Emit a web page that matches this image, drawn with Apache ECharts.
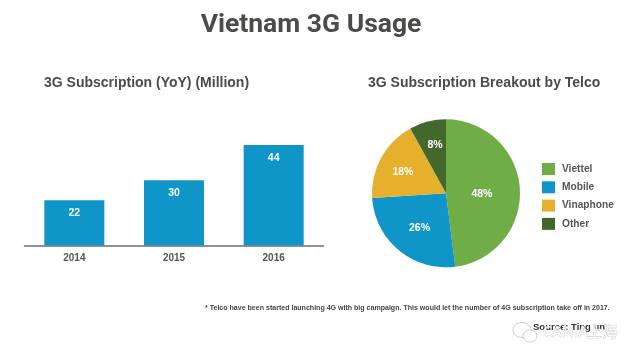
<!DOCTYPE html>
<html>
<head>
<meta charset="utf-8">
<style>html,body{margin:0;padding:0;background:#fff}#c{width:640px;height:358px}</style>
<script src="https://cdn.jsdelivr.net/npm/echarts@6/dist/echarts.min.js"></script>
</head>
<body>
<div id="c"></div>
<script>
var years = ['2014', '2015', '2016'];
var subscriptions = [22, 30, 44];
var telcos = ['Viettel', 'Mobile', 'Vinaphone', 'Other'];
var shares = [48, 26, 18, 8];
var telcoColors = ['#70ad47', '#0f95c8', '#e5b02c', '#43682b'];
var mainTitle = 'Vietnam 3G Usage';
var leftTitle = '3G Subscription (YoY) (Million)';
var rightTitle = '3G Subscription Breakout by Telco';
var footnote = '* Telco have been started launching 4G with big campaign. This would let the number of 4G subscription take off in 2017.';
var sourceText = 'Source: Ting un';
var watermark = 'CAMIA上海';
var pieLabelShift = [[-4, 3], [-1, 4], [-8, -2], [-1, -9]];

var ink = '#4b4b49';
var font = 'Roboto, "Liberation Sans", sans-serif';
var arial = '"Liberation Sans", sans-serif';
var chart = echarts.init(document.getElementById('c'), null, {renderer: 'canvas'});
chart.setOption({
  animation: false,
  backgroundColor: '#fff',
  title: [
    {text: mainTitle, left: 311, top: 12, padding: 0, textAlign: 'center',
     textStyle: {fontFamily: font, fontSize: 26.5, fontWeight: 'bold', color: ink}},
    {text: leftTitle, left: 44, top: 76, padding: 0,
     textStyle: {fontFamily: arial, fontSize: 14, fontWeight: 'bold', color: ink}},
    {text: rightTitle, left: 368, top: 76.5, padding: 0,
     textStyle: {fontFamily: arial, fontSize: 14, fontWeight: 'bold', color: ink}},
    {text: footnote, left: 205, top: 305, padding: 0,
     textStyle: {fontFamily: arial, fontSize: 7.05, fontWeight: 'bold', color: '#444'}},
    {text: sourceText, left: 533, top: 322, padding: 0,
     textStyle: {fontFamily: arial, fontSize: 9.5, fontWeight: 'bold', color: '#333'}},
    {text: watermark, left: 543, top: 324, padding: 0,
     textStyle: {fontFamily: '"Noto Sans CJK SC", sans-serif', fontSize: 15, fontWeight: 'normal', color: 'rgba(255,255,255,0.85)', textBorderColor: '#bbb', textBorderWidth: 0.6}}
  ],
  grid: {left: 24.5, width: 299, top: 145, height: 100.5},
  xAxis: {
    type: 'category', data: years,
    axisTick: {show: false},
    axisLine: {lineStyle: {color: '#6e6e6e', width: 1.5}},
    axisLabel: {fontFamily: arial, fontSize: 10, fontWeight: 'bold', color: '#555', margin: 8}
  },
  yAxis: {type: 'value', min: 4, max: 44, show: false, splitLine: {show: false}},
  legend: {
    orient: 'vertical', left: 542, top: 163, padding: 0, itemWidth: 13, itemHeight: 12, itemGap: 6.3,
    icon: 'rect', data: telcos,
    textStyle: {fontFamily: arial, fontSize: 10.2, fontWeight: 'bold', color: '#555', padding: [0, 0, 0, 2]}
  },
  series: [
    {type: 'bar', data: subscriptions, barWidth: 60, itemStyle: {color: '#0f95c8'},
     label: {show: true, position: 'insideTop', distance: 7.5, fontFamily: arial, fontSize: 10.5, fontWeight: 'bold', color: '#fff'}},
    {type: 'pie', center: [446, 193.3], radius: 74, startAngle: 90, clockwise: true,
     data: telcos.map(function (n, i) { return {name: n, value: shares[i], itemStyle: {color: telcoColors[i]}}; }),
     label: {show: true, position: 'inside', formatter: '{c}%', fontFamily: arial, fontSize: 10.5, fontWeight: 'bold', color: '#fff'},
     labelLine: {show: false},
     labelLayout: function (p) { return {dx: pieLabelShift[p.dataIndex][0], dy: pieLabelShift[p.dataIndex][1]}; }}
  ],
  graphic: [
    {type: 'ellipse', shape: {cx: 522, cy: 330, rx: 9, ry: 7.5}, style: {fill: '#fff', stroke: '#ccc', lineWidth: 1}},
    {type: 'ellipse', shape: {cx: 530, cy: 336, rx: 7, ry: 6}, style: {fill: '#fff', stroke: '#ccc', lineWidth: 1}}
  ]
});
</script>
</body>
</html>
